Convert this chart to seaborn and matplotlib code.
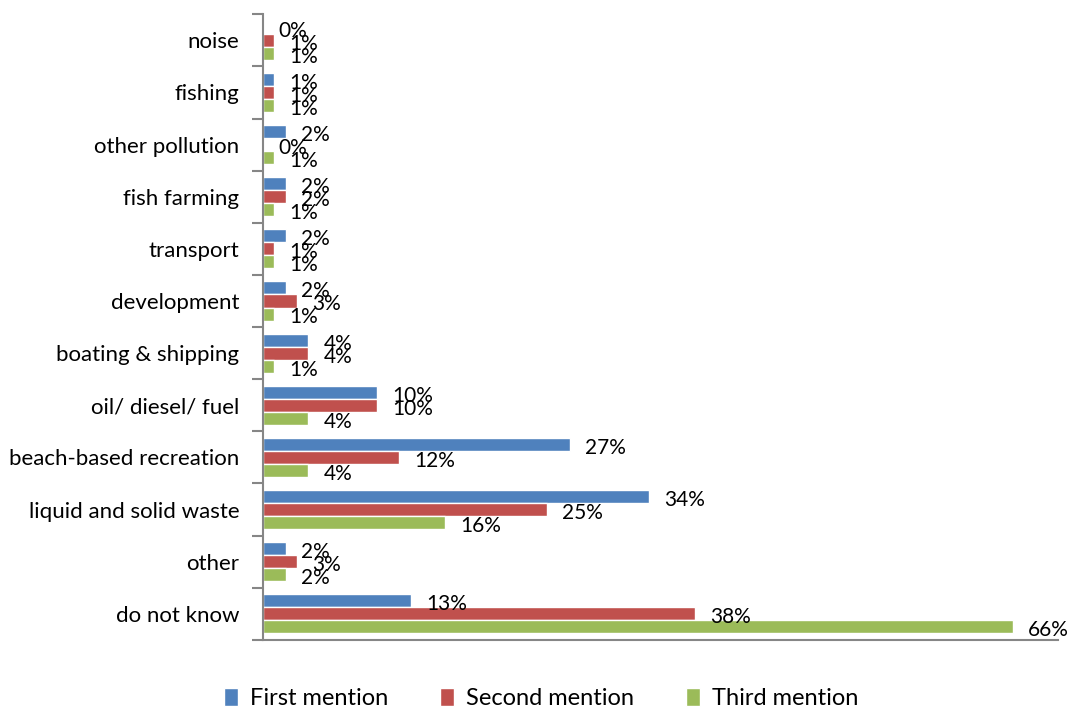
import pandas as pd
import seaborn as sns
import matplotlib.pyplot as plt

causes = ["noise", "fishing", "other pollution", "fish farming", "transport",
          "development", "boating & shipping", "oil/ diesel/ fuel",
          "beach-based recreation", "liquid and solid waste", "other", "do not know"]
first = [0, 1, 2, 2, 2, 2, 4, 10, 27, 34, 2, 13]
second = [1, 1, 0, 2, 1, 3, 4, 10, 12, 25, 3, 38]
third = [1, 1, 1, 1, 1, 1, 1, 4, 4, 16, 2, 66]
mentions = ["First mention", "Second mention", "Third mention"]

df = pd.DataFrame({"cause": causes * 3,
                   "pct": first + second + third,
                   "mention": [m for m in mentions for _ in causes]})

sns.set_style("white")
plt.rcParams["font.family"] = ["Lato", "DejaVu Sans"]
plt.rcParams["text.color"] = "black"

fig = plt.figure(figsize=(10.71, 7.11), dpi=100)
ax = fig.add_axes([0.2456, 0.100, 0.7424, 0.880])

sns.barplot(data=df, y="cause", x="pct", hue="mention", orient="h",
            palette=["#4F81BD", "#C0504D", "#9BBB59"], width=0.75,
            saturation=1, ax=ax, legend=True)

# value labels a bit to the right and slightly below bar centre, like Excel
for cont, vals in zip(ax.containers, [first, second, third]):
    anns = ax.bar_label(cont, labels=[f"{v}%" for v in vals], padding=11,
                        fontsize=15, color="black")
    for a in anns:
        a.xyann = (11, -2.5)

ax.set_xlim(0, 70)
ax.set_ylim(len(causes) - 0.5, -0.5)
ax.set_xlabel("")
ax.set_ylabel("")
ax.set_xticks([])
ax.tick_params(axis="y", which="major", left=False, length=0, pad=17, labelsize=16,
               labelcolor="black")
ax.set_yticks([i - 0.5 for i in range(len(causes) + 1)], minor=True)
ax.tick_params(axis="y", which="minor", left=True, length=8, width=1.5,
               color="#868686", direction="out")

for s in ["top", "right"]:
    ax.spines[s].set_visible(False)
for s in ["left", "bottom"]:
    ax.spines[s].set_color("#868686")
    ax.spines[s].set_linewidth(1.5)

handles, labels = ax.get_legend_handles_labels()
ax.get_legend().remove()
fig.legend(handles, labels, loc="center", bbox_to_anchor=(0.505, 0.018), ncol=3,
           frameon=False, fontsize=17, handlelength=0.6, handleheight=0.8,
           handletextpad=0.5, columnspacing=2.2)

fig.savefig("out.png", dpi=100)
